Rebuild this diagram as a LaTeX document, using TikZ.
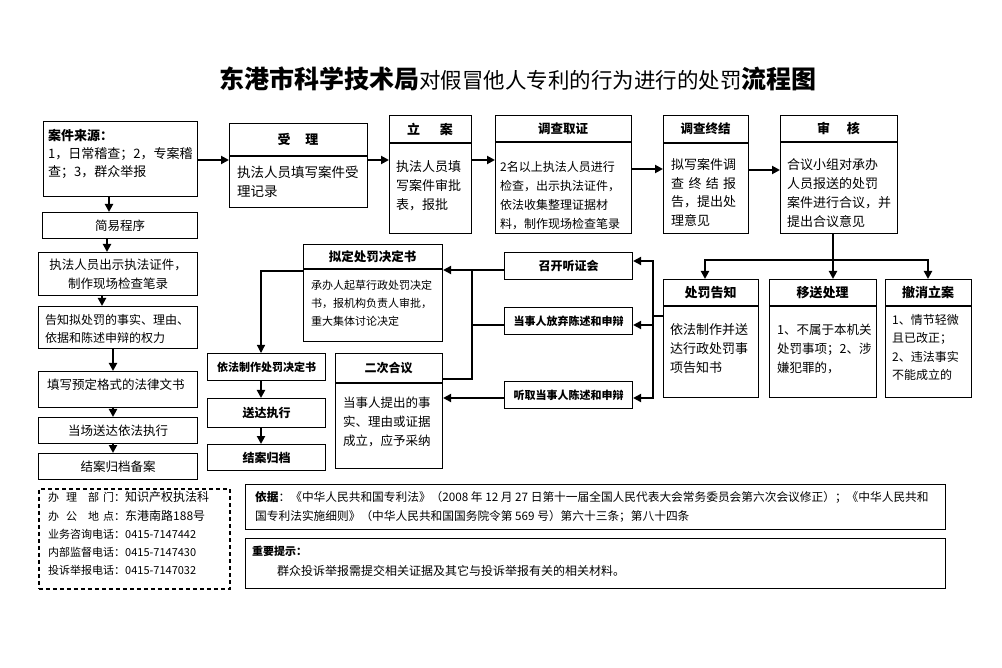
\documentclass[tikz,border=0pt]{standalone}
\usepackage{fontspec}
\setmainfont{Noto Sans CJK SC}
\usetikzlibrary{arrows.meta}
\newcommand\fsz[2]{\fontsize{#1}{#2}\selectfont}
\newcommand\bx[6]{\node[box, minimum width={(#4-#2)*1pt}, minimum height={(#5-#3)*1pt}] (#1) at (#2,#3) {#6};}
\newcommand\hdl[2]{\draw[thn] (#1.west |- 0,#2) -- (#1.east |- 0,#2);}
\begin{document}
\begin{tikzpicture}[x=1pt,y=-1pt,
  box/.style={draw, line width=1.1pt, inner sep=0pt, anchor=north west, align=center},
  arr/.style={line width=2.6pt, -{Triangle[length=8pt,width=8pt]}},
  darr/.style={line width=2.4pt, {Triangle[length=8pt,width=8pt]}-{Triangle[length=8pt,width=8pt]}},
  tarr/.style={line width=1.2pt, -{Triangle[length=8pt,width=8pt]}},
  thk/.style={line width=2.4pt},
  thn/.style={line width=1.1pt},
  tl/.style={anchor=north west, inner sep=0pt, align=left},
  ct/.style={inner sep=0pt, align=center}]
\useasboundingbox[fill=white] (0,0) rectangle (1002,668);

% title
\node[ct] (title) at (518,79) {\fsz{25}{25}\bfseries 东港市科学技术局{\fsz{21.5}{21.5}\mdseries 对假冒他人专利的行为进行的处罚}流程图};

% top row
\bx{src}{43}{121}{197}{196}{}
\node[tl, font=\fsz{13}{18}] (srct) at (48,129.5) {{\bfseries 案件来源：}\\1，日常稽查；2，专案稽\\查；3，群众举报};

\bx{shouli}{229}{123}{367}{207}{}
\hdl{shouli}{156}
\node[ct] (shoulih) at (298,139.5) {\fsz{13}{13}\bfseries 受\hspace{15pt}理};
\node[tl, font=\fsz{13.5}{19}] (shoulit) at (237,166) {执法人员填写案件受\\理记录};

\bx{lian}{389}{115}{471}{233}{}
\hdl{lian}{143}
\node[ct] (lianh) at (430,129) {\fsz{13}{13}\bfseries 立\hspace{20pt}案};
\node[tl, font=\fsz{13}{19}] (liant) at (396,160.5) {执法人员填\\写案件审批\\表，报批};

\bx{dcqz}{495}{115}{631}{233}{}
\hdl{dcqz}{142}
\node[ct] (dcqzh) at (563,128.5) {\fsz{12.5}{12.5}\bfseries 调查取证};
\node[tl, font=\fsz{12}{19}] (dcqzt) at (500,161) {2名以上执法人员进行\\检查，出示执法证件，\\依法收集整理证据材\\料，制作现场检查笔录};

\bx{dczj}{663}{115}{748}{233}{}
\hdl{dczj}{143}
\node[ct] (dczjh) at (705.5,129) {\fsz{12.5}{12.5}\bfseries 调查终结};
\node[tl, font=\fsz{13}{18.5}] (dczjt) at (671,158.5) {拟写案件调\\\makebox[65pt][s]{查 终 结 报}\\告，提出处\\理意见};

\bx{shenhe}{780}{115}{897}{233}{}
\hdl{shenhe}{142}
\node[ct] (shenheh) at (838.5,128.5) {\fsz{13}{13}\bfseries 审\hspace{17pt}核};
\node[tl, font=\fsz{13}{19}] (shenhet) at (787,158.5) {合议小组对承办\\人员报送的处罚\\案件进行合议，并\\提出合议意见};

% left column
\bx{jyc}{42}{212}{197}{238}{\fsz{12.5}{12.5}简易程序}
\bx{czs}{38}{252}{197}{295}{}
\node[ct, font=\fsz{12.5}{19.5}] (czst) at (czs.center) {执法人员出示执法证件，\\制作现场检查笔录};
\bx{gz}{38}{306}{197}{348}{}
\node[tl, font=\fsz{12}{18.5}] (gzt) at (45,314) {告知拟处罚的事实、理由、\\依据和陈述申辩的权力};
\bx{tx}{38}{371}{197}{407}{}
\node[anchor=west, inner sep=0pt] (txt) at (47,385) {\fsz{12.5}{12.5}填写预定格式的法律文书};
\bx{dc}{38}{417}{197}{443}{\fsz{12.5}{12.5}当场送达依法执行}
\bx{jagd}{38}{453}{197}{479}{\fsz{12.5}{12.5}结案归档备案}

% middle
\bx{nd}{303}{244}{442}{341}{}
\hdl{nd}{269}
\node[ct] (ndh) at (372.5,256.5) {\fsz{12.5}{12.5}\bfseries 拟定处罚决定书};
\node[tl, font=\fsz{11}{18}] (ndt) at (311,279.5) {承办人起草行政处罚决定\\书，报机构负责人审批，\\重大集体讨论决定};

\bx{ech}{335}{353}{442}{468}{}
\hdl{ech}{383}
\node[ct] (echh) at (388.5,368) {\fsz{12}{12}\bfseries 二次合议};
\node[tl, font=\fsz{12.5}{19}] (echt) at (343,396.75) {当事人提出的事\\实、理由或证据\\成立，应予采纳};

\bx{kt}{504}{252}{632}{279}{\fsz{12}{12}\bfseries 召开听证会}
\bx{fq}{504}{307}{632}{334}{\fsz{11}{11}\bfseries 当事人放弃陈述和申辩}
\bx{tq}{504}{381}{632}{408}{\fsz{11}{11}\bfseries 听取当事人陈述和申辩}

\bx{yfzz}{207}{353}{325}{380}{\fsz{11}{11}\bfseries 依法制作处罚决定书}
\bx{sdzx}{207}{398}{325}{427}{\fsz{12}{12}\bfseries 送达执行}
\bx{jagdb}{207}{444}{325}{470}{\fsz{12}{12}\bfseries 结案归档}

% right lower row
\bx{cfgz}{663}{279}{758}{397}{}
\hdl{cfgz}{306}
\node[ct] (cfgzh) at (710.5,292.5) {\fsz{13}{13}\bfseries 处罚告知};
\node[tl, font=\fsz{13}{19}] (cfgzt) at (670,323.5) {依法制作并送\\达行政处罚事\\项告知书};

\bx{yscl}{769}{279}{876}{397}{}
\hdl{yscl}{306}
\node[ct] (ysclh) at (822.5,292.5) {\fsz{13}{13}\bfseries 移送处理};
\node[tl, font=\fsz{12.5}{19}] (ysclt) at (777,323.75) {1、不属于本机关\\处罚事项；2、涉\\嫌犯罪的，};

\bx{cxla}{885}{279}{971}{397}{}
\hdl{cxla}{306}
\node[ct] (cxlah) at (928,292.5) {\fsz{13}{13}\bfseries 撤消立案};
\node[tl, font=\fsz{12}{18.5}] (cxlat) at (892,314) {1、情节轻微\\且已改正；\\2、违法事实\\不能成立的};

% bottom
\node[box, dashed, dash pattern=on 4pt off 3pt, line width=1.6pt, minimum width=191pt, minimum height=100pt] (info) at (38,488) {};
\node[tl, font=\fsz{11}{18.3}] (infot) at (48,491.5) {办\hspace{7pt}理\hspace{11pt}部\hspace{4pt}门：{\fsz{12}{18.3}知识产权执法科}\\
办\hspace{7pt}公\hspace{11pt}地\hspace{4pt}点：{\fsz{12}{18.3}东港南路188号}\\
业务咨询电话：0415-7147442\\
内部监督电话：0415-7147430\\
投诉举报电话：0415-7147032};

\bx{yj}{245}{484}{945}{529}{}
\node[tl, font=\fsz{11.7}{19}] (yjt) at (255,491) {{\bfseries 依据}：《中华人民共和国专利法》（2008 年 12 月 27 日第十一届全国人民代表大会常务委员会第六次会议修正）；《中华人民共和\\国专利法实施细则》（中华人民共和国国务院令第 569 号）第六十三条；第八十四条};

\bx{ts}{245}{538}{945}{588}{}
\node[anchor=west, inner sep=0pt] (tsh) at (252,551) {\fsz{11}{11}\bfseries 重要提示：};
\node[anchor=west, inner sep=0pt] (tst) at (277,571) {\fsz{12}{12}群众投诉举报需提交相关证据及其它与投诉举报有关的相关材料。};

% connectors top row
\draw[arr] (src.east |- 0,160) -- (shouli.west |- 0,160);
\draw[arr] (shouli.east |- 0,160) -- (lian.west |- 0,160);
\draw[arr] (lian.east |- 0,160) -- (dcqz.west |- 0,160);
\draw[arr] (dcqz.east |- 0,169) -- (dczj.west |- 0,169);
\draw[arr] (dczj.east |- 0,170) -- (shenhe.west |- 0,170);

\coordinate (split) at (833,260);
\coordinate (sl) at (705,260);
\coordinate (sr) at (928,260);
\draw[arr] (split |- shenhe.south) -- (split |- yscl.north);
\draw[darr] (sl |- cfgz.north) -- (sl) -- (sr) -- (sr |- cxla.north);

% left column
\draw[arr] (109,0 |- src.south) -- (109,0 |- jyc.north);
\draw[arr] (107,0 |- jyc.south) -- (107,0 |- czs.north);
\draw[arr] (102,0 |- czs.south) -- (102,0 |- gz.north);
\draw[arr] (113,0 |- gz.south) -- (113,0 |- tx.north);
\draw[arr] (113,0 |- tx.south) -- (113,0 |- dc.north);
\draw[arr] (113,0 |- dc.south) -- (113,0 |- jagd.north);

% bracket right of middle boxes
\coordinate (bt) at (653,261);
\coordinate (bm) at (653,325);
\coordinate (bb) at (653,398);
\draw[darr] (bt -| kt.east) -- (bt) -- (bb) -- (bb -| tq.east);
\draw[arr] (bm) -- (bm -| fq.east);
\draw[thn] (bt |- 0,316) -- (cfgz.west |- 0,316);

% middle junction
\coordinate (mj) at (472,270);
\draw[thn] (kt.west |- mj) -- (mj);
\draw[arr] (mj) -- (mj -| nd.east);
\draw[thn] (mj) -- (mj |- 0,379) -- (ech.east |- 0,379);
\draw[thn] (fq.west |- 0,325) -- (mj |- 0,325);
\draw[arr] (tq.west |- 0,398) -- (ech.east |- 0,398);

% left-middle column
\coordinate (lj) at (261,271);
\draw[tarr] (nd.west |- lj) -- (lj) -- (lj |- yfzz.north);
\draw[arr] (lj |- yfzz.south) -- (lj |- sdzx.north);
\draw[arr] (lj |- sdzx.south) -- (lj |- jagdb.north);
\end{tikzpicture}
\end{document}
